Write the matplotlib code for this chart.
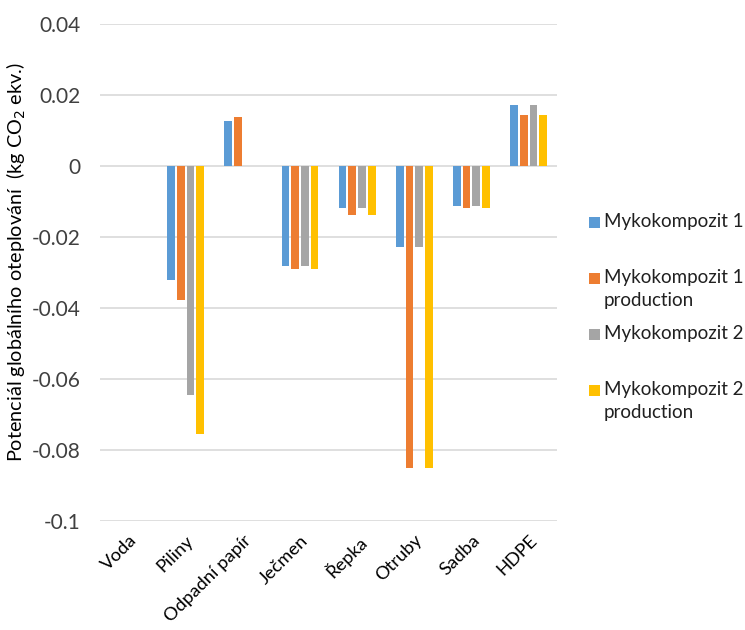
import numpy as np
import matplotlib
matplotlib.use("Agg")
import matplotlib.pyplot as plt
import matplotlib.patches as patches

plt.rcParams['font.family'] = ['Lato', 'DejaVu Sans']

categories = ['Voda', 'Piliny', 'Odpadní papír', 'Ječmen', 'Řepka', 'Otruby', 'Sadba', 'HDPE']
series_names = ['Mykokompozit 1', 'Mykokompozit 1\nproduction',
                'Mykokompozit 2', 'Mykokompozit 2\nproduction']

myko1 = [0.0, -0.0322, 0.0126, -0.0283, -0.0119, -0.0227, -0.0114, 0.0172]
myko1_prod = [0.0, -0.0378, 0.0139, -0.0290, -0.0137, -0.0850, -0.0117, 0.0144]
myko2 = [0.0, -0.0645, 0.0, -0.0283, -0.0119, -0.0227, -0.0114, 0.0172]
myko2_prod = [0.0, -0.0756, 0.0, -0.0290, -0.0137, -0.0850, -0.0117, 0.0144]

yticks = [0.04, 0.02, 0, -0.02, -0.04, -0.06, -0.08, -0.1]
ytick_labels = ['0.04', '0.02', '0', '-0.02', '-0.04', '-0.06', '-0.08', '-0.1']

colors = ['#5B9BD5', '#ED7D31', '#A5A5A5', '#FFC000']
grid_color = '#D9D9D9'

fig = plt.figure(figsize=(7.45, 6.3), dpi=100)
ax = fig.add_axes([0.134, 0.173, 0.614, 0.789])

x = np.arange(len(categories))
slot = 0.17
width = 0.135
for i, vals in enumerate([myko1, myko1_prod, myko2, myko2_prod]):
    ax.bar(x + (i - 1.5) * slot, vals, width=width, color=colors[i], zorder=3)

ax.set_xlim(-0.5, len(categories) - 0.5)
ax.set_ylim(-0.1, 0.04)
ax.set_yticks(yticks)
ax.set_yticklabels(ytick_labels, fontsize=15, color='#404040')
ax.set_xticks(x)
ax.set_xticklabels(categories, rotation=45, ha='right', rotation_mode='anchor',
                   fontsize=13.2, color='#000000')
ax.tick_params(axis='both', length=0)
ax.tick_params(axis='y', pad=14)
ax.tick_params(axis='x', pad=8)
ax.yaxis.grid(True, color=grid_color, linewidth=1.2, zorder=0)
for s in ax.spines.values():
    s.set_visible(False)

ax.set_ylabel('Potenciál globálního oteplování  (kg CO$_2$ ekv.)', fontsize=14.3)
ax.yaxis.set_label_coords(-0.158, 0.52)

# legend on the right, evenly spaced rows
leg_y = [223, 279, 335, 391]
for name, c, yy in zip(series_names, colors, leg_y):
    fy = 1 - yy / 630
    fig.patches.append(patches.Rectangle((589 / 745, fy - 5 / 630), 11 / 745, 11 / 630,
                                         transform=fig.transFigure, facecolor=c,
                                         edgecolor='none'))
    fig.text(604 / 745, fy + 10 / 630, name, fontsize=13.5, va='top', ha='left',
             linespacing=1.4, color='#202020')

fig.savefig('out.png', dpi=100, facecolor='white')
